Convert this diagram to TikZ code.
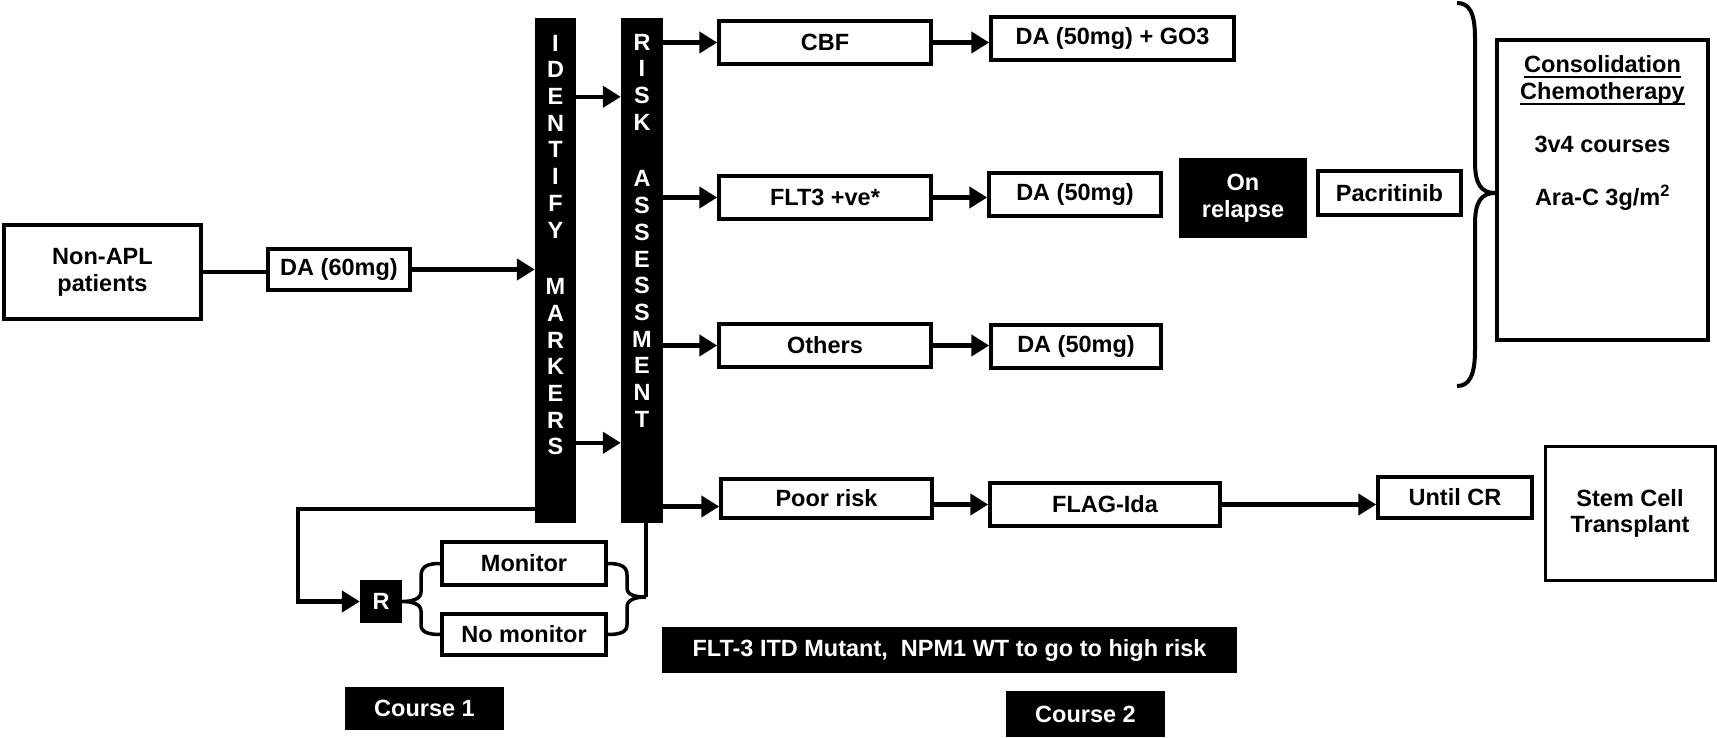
\documentclass[tikz,border=0pt]{standalone}
\usepackage{fontspec}
\setmainfont{Liberation Sans}
\usetikzlibrary{arrows.meta,calc}
\newcommand{\bft}{\fontsize{23.5}{26.7}\selectfont\bfseries}
\newcommand{\myul}[1]{\setbox0\hbox{#1}\rlap{\raisebox{-6pt}{\rule{\wd0}{2.4pt}}}\box0}
\begin{document}
\begin{tikzpicture}[x=1pt,y=-1pt,
  box/.style={draw, line width=3.5pt, fill=white, inner sep=0pt, align=center, font=\bft},
  blk/.style={fill=black, text=white, inner sep=0pt, align=center, font=\bft},
  arr/.style={line width=4.5pt, -{Triangle[length=18pt,width=21pt]}},
  ln/.style={line width=4.5pt},
  brc/.style={line width=3.5pt},
  bartxt/.style={text=white, anchor=north, align=center, font=\bft, inner sep=0pt}
]
\useasboundingbox (0,0) rectangle (1717,737);

% left
\node[box, minimum width=197pt, minimum height=94pt] (nonapl) at (102.5,272) {Non-APL\\patients};
\node[box, minimum width=142pt, minimum height=41pt] (da60) at (339,269.5) {DA (60mg)};

% bars
\node[fill=black, inner sep=0pt, minimum width=41pt, minimum height=505pt] (ident) at (555.5,270.5) {};
\node[fill=black, inner sep=0pt, minimum width=42pt, minimum height=505pt] (risk) at (642,270.5) {};
\node[bartxt] (identtxt) at ($(ident.north)+(0,17)$) {I\\D\\E\\N\\T\\I\\F\\Y\\[30pt]M\\A\\R\\K\\E\\R\\S};
\node[bartxt] (risktxt) at ($(risk.north)+(0,16)$) {R\\I\\S\\K\\[30pt]A\\S\\S\\E\\S\\S\\M\\E\\N\\T};

% branches
\node[box, minimum width=212pt, minimum height=43pt] (cbf) at (825,42.5) {CBF};
\node[box, minimum width=243pt, minimum height=43pt] (dago) at (1112.5,38.5) {DA (50mg) + GO3};
\node[box, minimum width=212pt, minimum height=43pt] (flt) at (825,197.5) {FLT3 +ve*};
\node[box, minimum width=172pt, minimum height=43pt] (daa) at (1075,194.5) {DA (50mg)};
\node[box, minimum width=212pt, minimum height=43pt] (oth) at (825,345.5) {Others};
\node[box, minimum width=170pt, minimum height=43pt] (dab) at (1076,346.5) {DA (50mg)};
\node[blk, minimum width=128pt, minimum height=80pt] (relapse) at (1243,198) {On\\relapse};
\node[box, minimum width=143pt, minimum height=44pt] (pacri) at (1389.5,193) {Pacritinib};
\node[box, minimum width=211pt, minimum height=300pt] (consol) at (1602.5,190) {};
\node[anchor=north, align=center, font=\bft, inner sep=0pt] (consoltxt) at ($(consol.north)+(0,17)$)
  {\myul{Consolidation}\\\myul{Chemotherapy}\\[26.7pt]3v4 courses\\[26.7pt]Ara-C 3g/m\textsuperscript{2}};

\node[box, minimum width=211pt, minimum height=39pt] (poor) at (826.5,498.5) {Poor risk};
\node[box, minimum width=230pt, minimum height=43pt] (flag) at (1105,504.5) {FLAG-Ida};
\node[box, minimum width=154pt, minimum height=41pt] (until) at (1455,497.5) {Until CR};
\node[box, line width=3pt, minimum width=170pt, minimum height=134pt] (stem) at (1630,513.5) {Stem Cell\\Transplant};

% randomisation
\node[blk, minimum width=42pt, minimum height=43pt] (R) at (381,601.5) {R};
\node[box, minimum width=164pt, minimum height=43pt] (mon) at (524,563.5) {Monitor};
\node[box, minimum width=164pt, minimum height=41pt] (nomon) at (524,634.5) {No monitor};

% notes
\node[blk, minimum width=575pt, minimum height=46pt] (note) at (949.5,650) {FLT-3 ITD Mutant,\ \ NPM1 WT to go to high risk};
\node[blk, minimum width=159pt, minimum height=43pt] (c1) at (424.5,708.5) {Course 1};
\node[blk, minimum width=159pt, minimum height=46pt] (c2) at (1085.5,714) {Course 2};

% connectors
\draw[ln] (nonapl.east) -- (nonapl.east -| da60.west);
\draw[arr] (da60.east) -- (da60.east -| ident.west);
\draw[arr] ([yshift=-79pt]ident.north east) -- ([yshift=-79pt]risk.north west);
\draw[arr] ([yshift=-425pt]ident.north east) -- ([yshift=-425pt]risk.north west);
\draw[arr] (risk.east |- cbf.west) -- (cbf.west);
\draw[arr] (risk.east |- flt.west) -- (flt.west);
\draw[arr] (risk.east |- oth.west) -- (oth.west);
\draw[arr] ([yshift=-8pt]risk.east |- poor.west) -- ([yshift=-8pt]poor.west);
\draw[arr] (cbf.east) -- (cbf.east -| dago.west);
\draw[arr] (flt.east) -- (flt.east -| daa.west);
\draw[arr] (oth.east) -- (oth.east -| dab.west);
\draw[arr] ([yshift=-6pt]poor.east) -- ([yshift=-6pt]poor.east -| flag.west);
\draw[arr] (flag.east) -- (flag.east -| until.west);
\draw[arr] ([yshift=14pt]ident.south west) -| ([xshift=-62pt]R.west) -- (R.west);

% braces
\draw[brc] (mon.west) .. controls (428,563.5) and (421,566) .. (421,576) -- (421,592)
  .. controls (421,599) and (412,601.5) .. (R.east)
  .. controls (412,601.5) and (421,604) .. (421,611) -- (421,625)
  .. controls (421,632) and (428,634.5) .. (nomon.west);
\coordinate (rtip) at (646,597);
\draw[brc] (mon.east) .. controls (620,563.5) and (627,566) .. (627,575) -- (627,588)
  .. controls (627,595) and (635,597) .. (rtip)
  .. controls (635,597) and (627,600) .. (627,607) -- (627,625)
  .. controls (627,632) and (620,634.5) .. (nomon.east);
\draw[brc] (rtip) -- (rtip |- risk.south);

\draw[line width=4pt] (1457,3) .. controls (1469,3) and (1475,12) .. (1475,38) -- (1475,162)
  .. controls (1475,184) and (1481,193) .. (consol.west |- 0,193)
  .. controls (1481,193) and (1475,202) .. (1475,224) -- (1475,350)
  .. controls (1475,376) and (1469,386) .. (1457,386);
\end{tikzpicture}
\end{document}
